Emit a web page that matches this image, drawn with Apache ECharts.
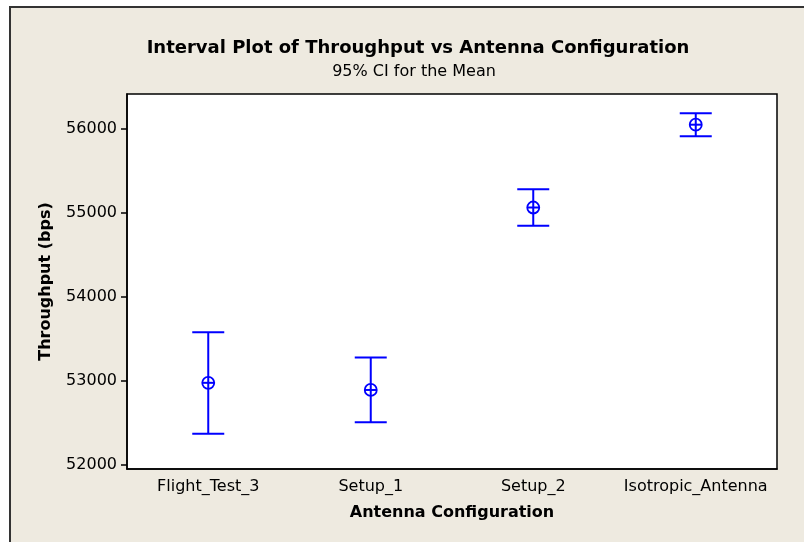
<!DOCTYPE html>
<html>
<head>
<meta charset="utf-8">
<script src="https://cdn.jsdelivr.net/npm/echarts@6/dist/echarts.min.js"></script>
<style>
  html, body { margin: 0; padding: 0; background: #fff; }
  #main { width: 804px; height: 542px; }
</style>
</head>
<body>
<div id="main"></div>
<script>
// 各配置的均值与95%置信区间
const categories = ['Flight_Test_3', 'Setup_1', 'Setup_2', 'Isotropic_Antenna']
const means = [52975, 52890, 55060, 56045]
const lower = [52370, 52505, 54842, 55908]
const upper = [53575, 53275, 55277, 56180]
const yTicks = [52000, 53000, 54000, 55000, 56000]

const chart = echarts.init(document.getElementById('main'))
const blue = '#0000ff'
const font = 'DejaVu Sans'

const seriesData = categories.map((c, i) => [i, means[i], lower[i], upper[i]])

function renderInterval (params, api) {
  const x = api.value(0)
  const mid = api.coord([x, api.value(1)])
  const lo = api.coord([x, api.value(2)])
  const hi = api.coord([x, api.value(3)])
  const capW = 16
  const r = 6
  const style = { stroke: blue, lineWidth: 2, fill: null }
  return {
    type: 'group',
    children: [
      { type: 'line', shape: { x1: lo[0], y1: lo[1], x2: hi[0], y2: hi[1] }, style },
      { type: 'line', shape: { x1: lo[0] - capW, y1: lo[1], x2: lo[0] + capW, y2: lo[1] }, style },
      { type: 'line', shape: { x1: hi[0] - capW, y1: hi[1], x2: hi[0] + capW, y2: hi[1] }, style },
      { type: 'circle', shape: { cx: mid[0], cy: mid[1], r: r }, style: { stroke: blue, lineWidth: 1.8, fill: 'rgba(0,0,0,0)' } },
      { type: 'line', shape: { x1: mid[0] - r, y1: mid[1], x2: mid[0] + r, y2: mid[1] }, style }
    ]
  }
}

const option = {
  backgroundColor: '#fff',
  animation: false,
  graphic: [
    { type: 'rect', z: -10, shape: { x: 10, y: 7, width: 800, height: 540 }, style: { fill: '#eeeae0' } },
    { type: 'line', z: -5, shape: { x1: 10, y1: 7, x2: 10, y2: 542 }, style: { stroke: '#333', lineWidth: 2 } },
    { type: 'line', z: -5, shape: { x1: 9, y1: 7, x2: 804, y2: 7 }, style: { stroke: '#333', lineWidth: 2 } }
  ],
  title: [
    {
      text: 'Interval Plot of Throughput vs Antenna Configuration',
      left: 413, top: 34, textAlign: 'center',
      textStyle: { fontFamily: font, fontSize: 18, fontWeight: 'bold', color: '#000' }
    },
    {
      text: '95% CI for the Mean',
      left: 409, top: 59, textAlign: 'center',
      textStyle: { fontFamily: font, fontSize: 16, fontWeight: 'normal', color: '#000' }
    }
  ],
  grid: {
    left: 127, top: 94, right: 27, bottom: 73,
    show: true, backgroundColor: '#fff', borderColor: '#000', borderWidth: 1.5
  },
  xAxis: {
    type: 'category',
    data: categories,
    boundaryGap: true,
    name: 'Antenna Configuration',
    nameLocation: 'middle',
    nameGap: 36,
    nameTextStyle: { fontFamily: font, fontSize: 16, fontWeight: 'bold', color: '#000' },
    axisLine: { lineStyle: { color: '#000', width: 1.5 } },
    axisTick: { alignWithLabel: true, length: 6, lineStyle: { color: '#000', width: 1.5 } },
    axisLabel: { fontFamily: font, fontSize: 16, color: '#000', margin: 10, interval: 0 },
    splitLine: { show: false }
  },
  yAxis: {
    type: 'value',
    min: 51950,
    max: 56410,
    name: 'Throughput (bps)',
    nameLocation: 'middle',
    nameGap: 73,
    nameTextStyle: { fontFamily: font, fontSize: 16, fontWeight: 'bold', color: '#000' },
    axisLine: { show: true, lineStyle: { color: '#000', width: 1.5 } },
    axisTick: { show: true, length: 6, customValues: yTicks, lineStyle: { color: '#000', width: 1.5 } },
    axisLabel: {
      fontFamily: font, fontSize: 16, color: '#000', margin: 10,
      customValues: yTicks,
      formatter: v => String(v)
    },
    splitLine: { show: false }
  },
  series: [{
    type: 'custom',
    renderItem: renderInterval,
    encode: { x: 0, y: [1, 2, 3] },
    data: seriesData
  }]
}

chart.setOption(option)
</script>
</body>
</html>
